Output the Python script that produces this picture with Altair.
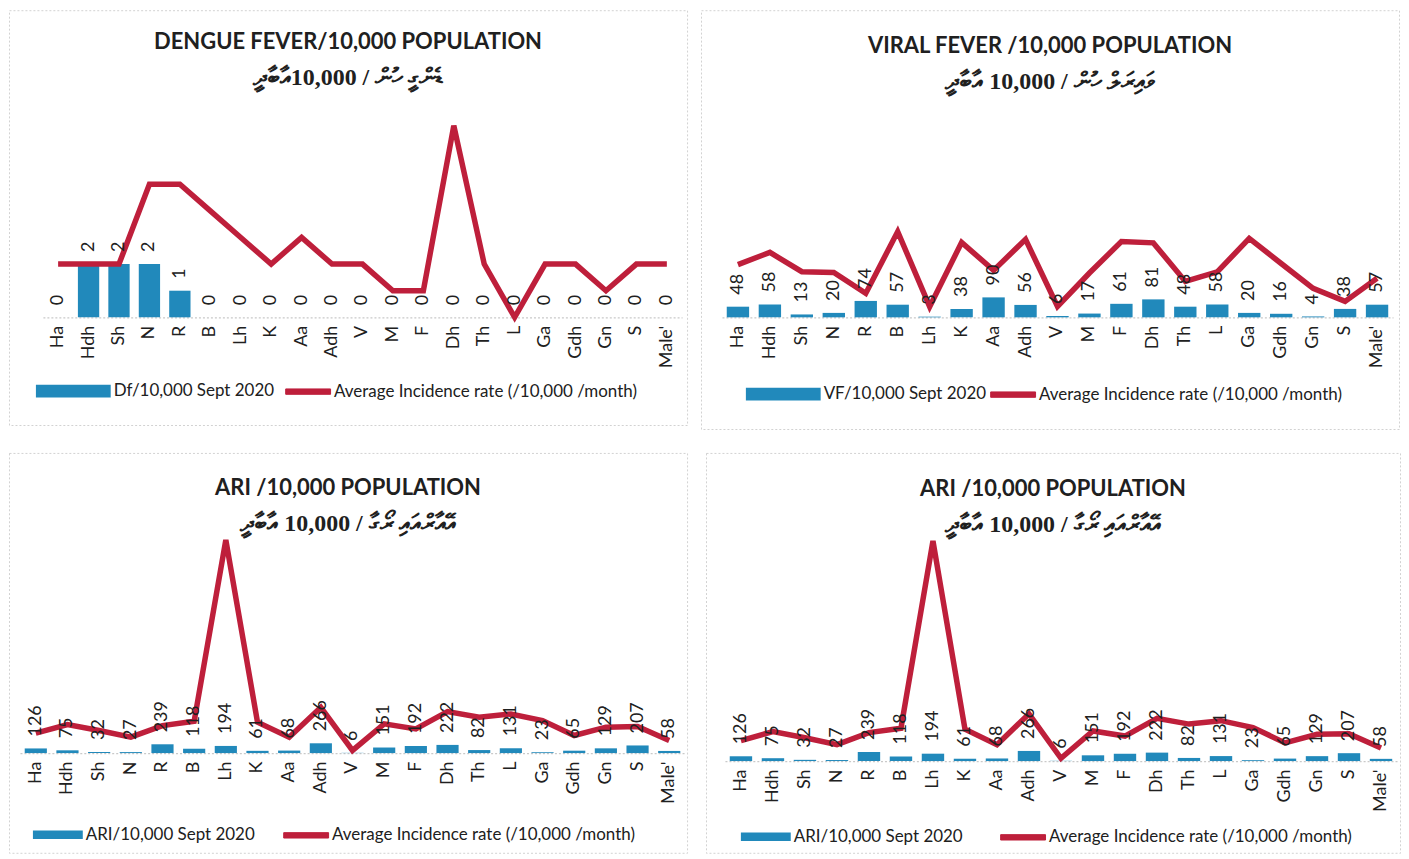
import altair as alt
import pandas as pd

atolls = ["Ha", "Hdh", "Sh", "N", "R", "B", "Lh", "K", "Aa", "Adh", "V", "M",
          "F", "Dh", "Th", "L", "Ga", "Gdh", "Gn", "S", "Male'"]

df_sept = [0, 2, 2, 2, 1, 0, 0, 0, 0, 0, 0, 0, 0, 0, 0, 0, 0, 0, 0, 0, 0]
df_avg = [2, 2, 2, 5, 5, 4, 3, 2, 3, 2, 2, 1, 1, 7.2, 2, 0, 2, 2, 1, 2, 2]

vf_sept = [48, 58, 13, 20, 74, 57, 3, 38, 90, 56, 6, 17, 61, 81, 48, 58, 20, 16, 4, 38, 57]
vf_avg = [238, 293, 206, 202, 108, 387, 48, 338, 212, 352, 49, 200, 342, 336, 162, 205, 356, 243, 131, 72, 176]

ari_sept = [126, 75, 32, 27, 239, 118, 194, 61, 68, 266, 6, 151, 192, 222, 82, 131, 23, 65, 129, 207, 58]
ari_avg = [540, 775, 613, 432, 748, 865, 5793, 838, 432, 1243, 72, 793, 658, 1126, 973, 1063, 883, 477, 703, 721, 342]

line_name = "Average Incidence rate (/10,000 /month)"

BLUE = "#2189BB"
RED = "#BE1F3B"
FONT = "Lato"
TXT = "#202020"


def panel(bars, avg, bar_name, title, subtitle, w, h, base, ppu, x0, x1,
          leg1, leg2, sw1, title_off):
    data = pd.DataFrame({"atoll": atolls, "sept": bars, "avg": avg,
                         "s1": bar_name, "s2": line_name})
    ymin = -(h - base) / ppu
    ymax = base / ppu
    xenc = alt.X("atoll:N", sort=atolls,
                 scale=alt.Scale(range=[x0, x1], paddingInner=0.3, paddingOuter=0.15),
                 axis=alt.Axis(title=None, labelAngle=270, ticks=False,
                               labelFont=FONT, labelFontSize=18, labelColor=TXT,
                               labelPadding=8, domainColor="#c9c9c9",
                               domainDash=[2, 2], domainWidth=1.2,
                               offset=-(h - base)))
    ysc = alt.Scale(domain=[ymin, ymax], nice=False, zero=False)
    base_chart = alt.Chart(data)
    bar = base_chart.mark_bar().encode(
        x=xenc,
        y=alt.Y("sept:Q", scale=ysc, axis=None),
        y2=alt.datum(0),
        fill=alt.Fill("s1:N", scale=alt.Scale(range=[BLUE]),
                      legend=alt.Legend(title=None, orient="none",
                                        legendX=leg1[0], legendY=leg1[1] - sw1 / 2,
                                        symbolType="M-1,-0.17H1V0.17H-1Z",
                                        symbolSize=sw1 * sw1, symbolStrokeWidth=0,
                                        labelFont=FONT, labelFontSize=17,
                                        labelColor=TXT, labelOffset=3, labelLimit=0)),
    )
    line = base_chart.mark_line(strokeWidth=5.5, strokeJoin="miter").encode(
        x=alt.X("atoll:N", sort=atolls),
        y=alt.Y("avg:Q", scale=ysc, axis=None),
        stroke=alt.Stroke("s2:N", scale=alt.Scale(range=[RED]),
                          legend=alt.Legend(title=None, orient="none",
                                            legendX=leg2[0], legendY=leg2[1] - 22.5,
                                            symbolType="M-1,-0.12H1V0.12H-1Z",
                                            symbolSize=45 * 45, symbolStrokeWidth=1,
                                            symbolFillColor=RED,
                                            labelFont=FONT, labelFontSize=17,
                                            labelColor=TXT, labelOffset=3, labelLimit=0)),
    )
    labels = base_chart.mark_text(angle=270, align="left", baseline="middle", dx=12,
                                  font=FONT, fontSize=18, color=TXT).encode(
        x=alt.X("atoll:N", sort=atolls),
        y=alt.Y("sept:Q", scale=ysc, axis=None),
        text=alt.Text("sept:Q", format="d"),
    )
    return alt.layer(bar, line, labels).resolve_legend(
        fill="independent", stroke="independent").properties(
        width=w, height=h,
        title=alt.TitleParams(text=title, subtitle=subtitle, anchor="middle",
                              offset=title_off, font=FONT, fontSize=22,
                              fontWeight="bold", color=TXT,
                              subtitleFont="Liberation Serif, DejaVu Sans",
                              subtitleFontSize=24,
                              subtitleFontWeight="bold", subtitleColor=TXT,
                              subtitlePadding=12),
    )


tl = panel(df_sept, df_avg, "Df/10,000 Sept 2020", "DENGUE FEVER/10,000 POPULATION",
           "ޑެންގީ ހުން / 10,000އާބާދީ", 680, 416, 308, 26.7, 34, 675,
           (27, 382), (277, 382), 75, -81)
tr = panel(vf_sept, vf_avg, "VF/10,000 Sept 2020", "VIRAL FEVER /10,000 POPULATION",
           "ވައިރަލް ހުން /   10,000  އާބާދީ", 700, 420, 308, 0.2222, 21, 694,
           (45, 385), (290, 385), 75, -85)
bl = panel(ari_sept, ari_avg, "ARI/10,000 Sept 2020", "ARI /10,000 POPULATION",
           "އޭއާރްއައި ރޯގާ / 10,000 އާބާދީ", 680, 401, 301, 0.0369, 11, 678,
           (24, 383), (275, 383), 50, -84)
br = panel(ari_sept, ari_avg, "ARI/10,000 Sept 2020", "ARI /10,000 POPULATION",
           "އޭއާރްއައި ރޯގާ / 10,000 އާބާދީ", 696, 401, 309, 0.0381, 19, 693,
           (35, 385), (295, 385), 50, -85)

row1 = alt.hconcat(tl, tr, spacing=12).resolve_scale(
    fill="independent", stroke="independent").resolve_legend(
    fill="independent", stroke="independent")
row2 = alt.hconcat(bl, br, spacing=17).resolve_scale(
    fill="independent", stroke="independent").resolve_legend(
    fill="independent", stroke="independent")
chart = alt.vconcat(row1, row2, spacing=22).resolve_scale(
    fill="independent", stroke="independent").resolve_legend(
    fill="independent", stroke="independent").properties(
    padding=0, background="white"
).configure_view(stroke="#d2d2d2", strokeDash=[2, 2], strokeWidth=1)

chart.save("out.html", embed_options={"renderer": "svg", "actions": False})
